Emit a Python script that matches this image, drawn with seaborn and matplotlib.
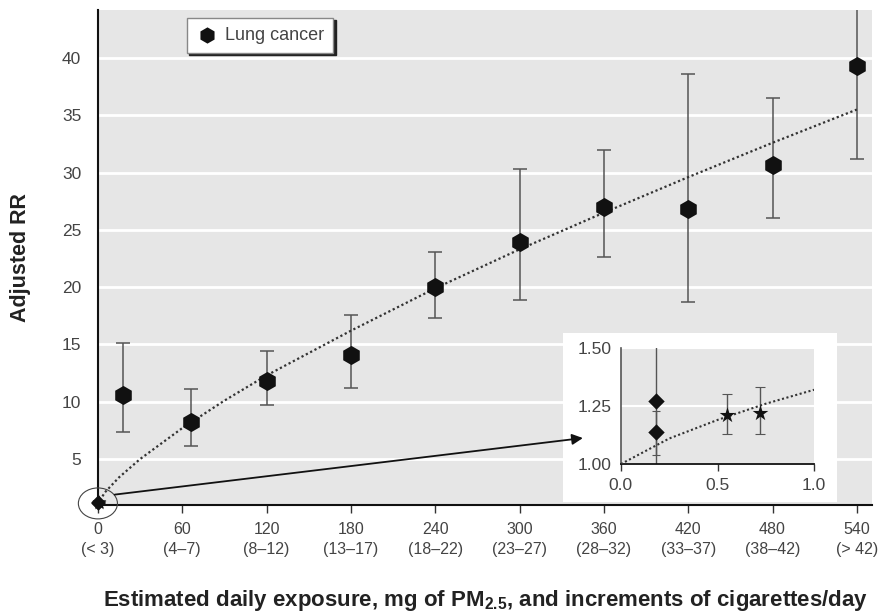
import matplotlib
matplotlib.use("Agg")
import matplotlib.pyplot as plt
import seaborn as sns
from matplotlib.patches import Ellipse, ConnectionPatch

# Lung cancer RR by increments of cigarettes/day (mg PM2.5)
dose = [18, 66, 120, 180, 240, 300, 360, 420, 480, 540]
rr = [10.6, 8.2, 11.8, 14.1, 20.0, 23.9, 27.0, 26.8, 30.7, 39.3]
rr_lo = [7.4, 6.1, 9.7, 11.2, 17.3, 18.9, 22.6, 18.7, 26.0, 31.2]
rr_hi = [15.1, 11.1, 14.4, 17.6, 23.1, 30.3, 32.0, 38.6, 36.5, 48.0]

tick_pos = [0, 60, 120, 180, 240, 300, 360, 420, 480, 540]
tick_labels = ["0\n(< 3)", "60\n(4\u20137)", "120\n(8\u201312)", "180\n(13\u201317)",
               "240\n(18\u201322)", "300\n(23\u201327)", "360\n(28\u201332)",
               "420\n(33\u201337)", "480\n(38\u201342)", "540\n(> 42)"]

# dotted fitted curve
curve_x = [0, 1, 5, 15, 30, 60, 90, 120, 180, 240, 300, 360, 420, 480, 540]
curve_y = [1.0, 1.3, 2.1, 3.4, 5.0, 7.7, 10.1, 12.3, 16.2, 19.9, 23.3, 26.5, 29.6, 32.6, 35.5]

# low-dose points (inset): diamonds and stars
diam_x = [0.18, 0.18]
diam_rr = [1.27, 1.14]
diam_lo = [0.95, 1.04]
diam_hi = [1.70, 1.23]
star_x = [0.55, 0.72]
star_rr = [1.21, 1.22]
star_lo = [1.13, 1.13]
star_hi = [1.30, 1.33]
inset_curve_x = [0, 0.25, 0.5, 0.75, 1.0]
inset_curve_y = [1.0, 1.11, 1.19, 1.26, 1.32]

sns.set_style("white")
plt.rcParams["font.family"] = ["Liberation Sans", "DejaVu Sans"]
plt.rcParams["mathtext.fontset"] = "custom"
plt.rcParams["mathtext.rm"] = "Liberation Sans"
plt.rcParams["mathtext.bf"] = "Liberation Sans:bold"

bg = "#e6e6e6"
txt = "#444444"
ebc = "#555555"


def err(vals, lo, hi):
    return [[v - l for v, l in zip(vals, lo)], [h - v for v, h in zip(vals, hi)]]


fig = plt.figure(figsize=(8.82, 6.15), dpi=100)
ax = fig.add_axes([0.111, 0.179, 0.878, 0.805])
ax.set_facecolor(bg)

# error bars + markers
ax.errorbar(dose, rr, yerr=err(rr, rr_lo, rr_hi), fmt="none", ecolor=ebc,
            elinewidth=1.1, capsize=4.7, capthick=1.1, zorder=2)
sns.lineplot(x=curve_x, y=curve_y, ax=ax, color="#333333", linestyle=(0, (1, 1.2)),
             linewidth=1.6, zorder=3)
sns.scatterplot(x=dose, y=rr, ax=ax, marker="h", s=190, color="#111111",
                edgecolor="#111111", linewidth=0, zorder=4, label="Lung cancer")

# low-dose cluster at 0 on main axes
ax.errorbar(diam_x + star_x, diam_rr + star_rr,
            yerr=err(diam_rr + star_rr, diam_lo + star_lo, diam_hi + star_hi),
            fmt="none", ecolor=ebc, elinewidth=1.0, clip_on=False, zorder=2)
sns.scatterplot(x=diam_x, y=diam_rr, ax=ax, marker="D", s=55, color="#111111",
                linewidth=0, zorder=5, clip_on=False, legend=False)
sns.scatterplot(x=star_x, y=star_rr, ax=ax, marker="*", s=110, color="#111111",
                linewidth=0, zorder=5, clip_on=False, legend=False)
ax.add_patch(Ellipse((0, 1.13), width=27.8, height=2.7, fill=False, ec="#444444",
                     lw=0.8, clip_on=False, zorder=6))

ax.set_xlim(0, 551)
ax.set_ylim(1, 44.2)
ax.set_xticks(tick_pos)
ax.set_xticklabels(tick_labels, fontsize=11.5, color=txt, linespacing=1.45)
ax.set_yticks([5, 10, 15, 20, 25, 30, 35, 40])
ax.set_yticklabels(["5", "10", "15", "20", "25", "30", "35", "40"], fontsize=12.5, color=txt)
ax.tick_params(axis="x", direction="out", length=6, width=1, color="#333333", pad=6, bottom=True)
ax.tick_params(axis="y", length=0, pad=12)
ax.yaxis.grid(True, color="white", linewidth=2)
ax.xaxis.grid(False)
ax.set_axisbelow(True)
for s in ["top", "right"]:
    ax.spines[s].set_visible(False)
for s in ["left", "bottom"]:
    ax.spines[s].set_color("#111111")
    ax.spines[s].set_linewidth(1.5)

ax.set_ylabel("Adjusted RR", fontsize=15.5, fontweight="bold", color="#222222", labelpad=22)
ax.set_xlabel("Estimated daily exposure, mg of PM$_{\\mathbf{2.5}}$, and increments of cigarettes/day",
              fontsize=16, fontweight="bold", color="#222222", labelpad=22)

leg = ax.legend(loc="upper left", bbox_to_anchor=(0.115, 0.984), borderaxespad=0,
                frameon=True, fancybox=False, fontsize=13,
                shadow={"color": "#222222", "alpha": 1, "ox": 1.8, "oy": -1.8},
                handletextpad=0.4, borderpad=0.5, handlelength=1.2, markerscale=0.85)
leg.get_frame().set_edgecolor("#888888")
leg.get_frame().set_linewidth(1)
for t in leg.get_texts():
    t.set_color(txt)

# white box behind the inset
box = fig.add_axes([0.638, 0.184, 0.311, 0.275], zorder=2)
box.set_facecolor("white")
box.set_xticks([])
box.set_yticks([])
for s in box.spines.values():
    s.set_visible(False)

ins = fig.add_axes([0.704, 0.2455, 0.219, 0.1886], zorder=3)
ins.set_facecolor(bg)
ins.errorbar(diam_x, diam_rr, yerr=err(diam_rr, diam_lo, diam_hi), fmt="none", ecolor=ebc,
             elinewidth=1.0, capsize=3, capthick=0.8, zorder=2)
ins.errorbar(star_x, star_rr, yerr=err(star_rr, star_lo, star_hi), fmt="none", ecolor=ebc,
             elinewidth=1.0, capsize=3.5, capthick=0.8, zorder=2)
sns.lineplot(x=inset_curve_x, y=inset_curve_y, ax=ins, color="#333333",
             linestyle=(0, (1, 1.2)), linewidth=1.5, zorder=3)
sns.scatterplot(x=diam_x, y=diam_rr, ax=ins, marker="D", s=70, color="#111111",
                linewidth=0, zorder=4, legend=False)
sns.scatterplot(x=star_x, y=star_rr, ax=ins, marker="*", s=140, color="#111111",
                linewidth=0, zorder=4, legend=False)
ins.set_xlim(0, 1)
ins.set_ylim(1.0, 1.5)
ins.set_xticks([0.0, 0.5, 1.0])
ins.set_xticklabels(["0.0", "0.5", "1.0"], fontsize=12.5, color=txt)
ins.set_yticks([1.0, 1.25, 1.5])
ins.set_yticklabels(["1.00", "1.25", "1.50"], fontsize=12.5, color=txt)
ins.tick_params(axis="x", direction="out", length=5, width=1, color="#333333", pad=5, bottom=True)
ins.tick_params(axis="y", length=0, pad=7)
ins.yaxis.grid(True, color="white", linewidth=1.5)
ins.xaxis.grid(False)
ins.set_axisbelow(True)
for s in ["top", "right"]:
    ins.spines[s].set_visible(False)
ins.spines["left"].set_color("#555555")
ins.spines["left"].set_linewidth(1.2)
ins.spines["bottom"].set_color("#111111")
ins.spines["bottom"].set_linewidth(1.3)

# arrow from the circled cluster to the inset
arrow = ConnectionPatch(xyA=(12, 1.9), coordsA=ax.transData,
                        xyB=(-0.197, 0.224), coordsB=ins.transAxes,
                        arrowstyle="-|>", mutation_scale=16, color="#111111", lw=1.3)
arrow.set_zorder(5)
fig.add_artist(arrow)

fig.savefig("out.png", dpi=100)
